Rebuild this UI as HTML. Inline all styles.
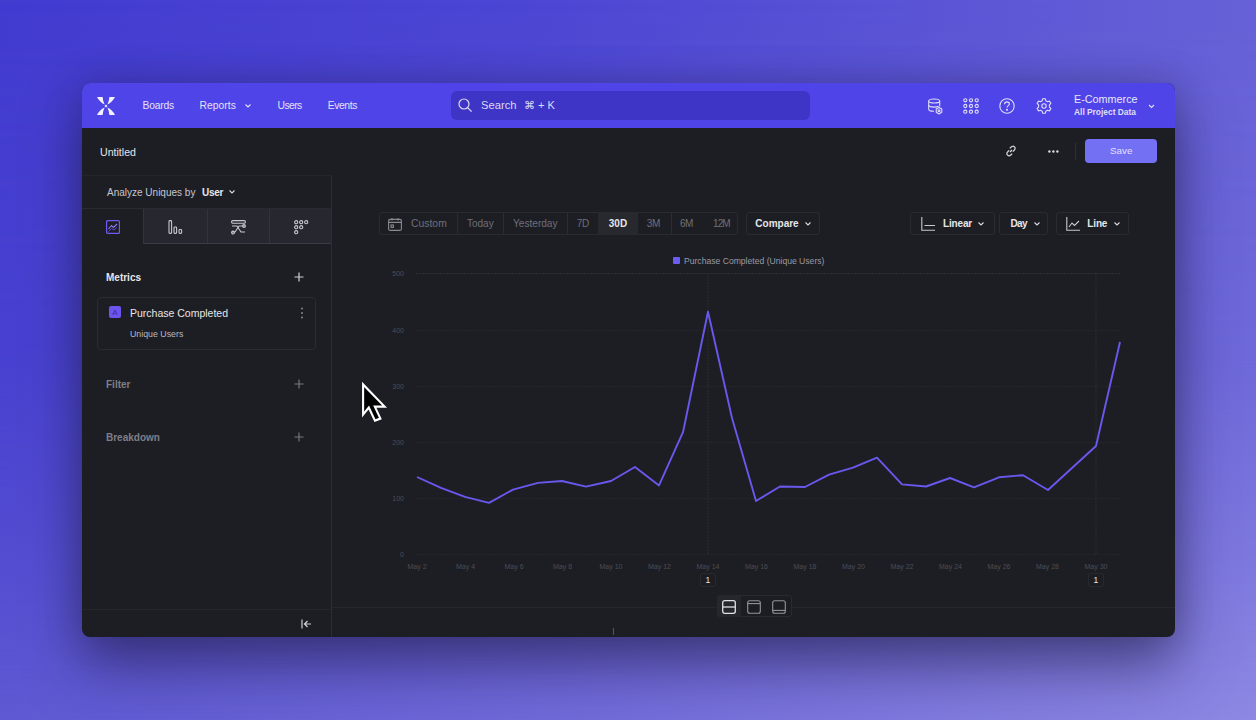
<!DOCTYPE html>
<html><head><meta charset="utf-8">
<style>
*{margin:0;padding:0;box-sizing:border-box}
html,body{width:1256px;height:720px;overflow:hidden}
body{font-family:"Liberation Sans",sans-serif;position:relative;
background:linear-gradient(to right,#423bd0 0%,#4d47d4 45%,#6761d7 100%);}
#bgb{position:absolute;left:0;top:0;width:1256px;height:720px;background:linear-gradient(to right,#5f59d2 0%,#716bd9 45%,#8d88e2 100%);-webkit-mask-image:linear-gradient(to bottom,transparent 0%,rgba(0,0,0,.2) 50%,rgba(0,0,0,.6) 78%,#000 100%);mask-image:linear-gradient(to bottom,transparent 0%,rgba(0,0,0,.2) 50%,rgba(0,0,0,.6) 78%,#000 100%)}
.abs{position:absolute}
#win{position:absolute;left:82px;top:83px;width:1093px;height:554px;border-radius:8px;overflow:hidden;background:#1d1e24;
box-shadow:0 30px 56px rgba(32,30,70,.55),0 0 36px rgba(28,24,66,.28)}
#nav{position:absolute;left:0;top:0;width:1093px;height:45px;background:#4e44e8}
.t{position:absolute;white-space:nowrap;line-height:1}
.nv{color:#e4e2f6;font-size:10px;top:18px}
#search{position:absolute;left:369px;top:8px;width:359px;height:29px;border-radius:6px;background:#3e34c6}
.w{color:#e6e6ea}
.g{color:#7e7e87}
.tg{color:#6f6f78}
.ln{position:absolute;background:#2b2c33}
</style></head>
<body>
<div id="bgb"></div>
<div id="win">
  <div id="nav">
    <svg class="abs" style="left:15px;top:14px" width="18" height="18" viewBox="0 0 17.3 17.3" fill="#f4f2ff">
      <path d="M0,0 L5.4,0 Q5.7,4 7.3,7.2 Q2.6,5 0,0 Z"/>
      <path d="M0,0 L5.4,0 Q5.7,4 7.3,7.2 Q2.6,5 0,0 Z" transform="translate(17.3,0) scale(-1,1)"/>
      <path d="M0,0 L5.4,0 Q5.7,4 7.3,7.2 Q2.6,5 0,0 Z" transform="translate(0,17.3) scale(1,-1)"/>
      <path d="M0,0 L5.4,0 Q5.7,4 7.3,7.2 Q2.6,5 0,0 Z" transform="translate(17.3,17.3) scale(-1,-1)"/>
      <rect x="7.6" y="7.6" width="2.1" height="2.1" transform="rotate(45 8.65 8.65)"/>
    </svg>
    <span class="t nv" style="left:60.5px;font-size:10.3px;letter-spacing:-0.2px">Boards</span>
    <span class="t nv" style="left:117.5px;font-size:10.3px;letter-spacing:0.05px">Reports</span>
    <svg class="abs" style="left:163px;top:21px" width="6" height="4" viewBox="0 0 6 4"><path d="M0.5,0.5 L3,3 L5.5,0.5" fill="none" stroke="#e4e2f6" stroke-width="1.1"/></svg>
    <span class="t nv" style="left:195.5px;font-size:10.3px;letter-spacing:-0.55px">Users</span>
    <span class="t nv" style="left:245.8px;font-size:10.3px;letter-spacing:-0.4px">Events</span>
    <div id="search">
      <svg class="abs" style="left:7px;top:7px" width="15" height="15" viewBox="0 0 15 15"><circle cx="6" cy="6" r="5" fill="none" stroke="#dcdaf4" stroke-width="1.2"/><path d="M9.6,9.6 L13.6,13.6" stroke="#dcdaf4" stroke-width="1.3"/></svg>
      <span class="t" style="left:30px;top:9px;font-size:11.2px;color:#dcdaf4">Search</span>
      <span class="t" style="left:73px;top:9px;font-size:11px;color:#dcdaf4">⌘ + K</span>
    </div>
    <!-- right icons -->
    <svg class="abs" style="left:845.5px;top:14.5px" width="16" height="18" viewBox="0 0 16 18" fill="none" stroke="#e0def6" stroke-width="1.1">
      <ellipse cx="6.2" cy="3" rx="5.5" ry="2"/>
      <path d="M0.7,3 V11.2 C0.7,12.4 3,13.2 6,13.2"/><path d="M11.7,3 V8.4"/>
      <path d="M0.7,7.1 C0.7,8.3 3.2,9.1 6.2,9.1 C8,9.1 9.6,8.8 10.6,8.3"/>
      <polygon points="13.77,14.30 11.00,15.90 8.23,14.30 8.23,11.10 11.00,9.50 13.77,11.10" stroke-linejoin="round"/><circle cx="11" cy="12.7" r="1"/>
    </svg>
    <svg class="abs" style="left:881px;top:15px" width="16" height="16" viewBox="0 0 16 16" fill="none" stroke="#e0def6" stroke-width="1.1">
      <circle cx="2.3" cy="2.3" r="1.6"/><circle cx="8" cy="2.3" r="1.6"/><circle cx="13.7" cy="2.3" r="1.6"/>
      <circle cx="2.3" cy="8" r="1.6"/><circle cx="8" cy="8" r="1.6"/><circle cx="13.7" cy="8" r="1.6"/>
      <circle cx="2.3" cy="13.7" r="1.6"/><circle cx="8" cy="13.7" r="1.6"/><circle cx="13.7" cy="13.7" r="1.6"/>
    </svg>
    <svg class="abs" style="left:917px;top:15px" width="16" height="16" viewBox="0 0 16 16" fill="none" stroke="#e0def6" stroke-width="1.1">
      <circle cx="8" cy="8" r="7.2"/><path d="M5.6,6.2 C5.6,4.6 6.8,3.9 8,3.9 C9.4,3.9 10.4,4.8 10.4,6 C10.4,7.6 8,7.8 8,9.6"/><circle cx="8" cy="11.8" r="0.5" fill="#e0def6"/>
    </svg>
    <svg class="abs" style="left:954px;top:15px" width="16" height="16" viewBox="0 0 16 16" fill="none" stroke="#e0def6" stroke-width="1.1">
      <path d="M6.6,0.8 H9.4 L9.8,2.8 L11.6,3.8 L13.5,3.1 L14.9,5.5 L13.4,6.9 V9.1 L14.9,10.5 L13.5,12.9 L11.6,12.2 L9.8,13.2 L9.4,15.2 H6.6 L6.2,13.2 L4.4,12.2 L2.5,12.9 L1.1,10.5 L2.6,9.1 V6.9 L1.1,5.5 L2.5,3.1 L4.4,3.8 L6.2,2.8Z" stroke-linejoin="round"/>
      <circle cx="8" cy="8" r="2.2"/>
    </svg>
    <span class="t" style="left:992px;top:11px;font-size:10.8px;color:#e8e6f8">E-Commerce</span>
    <span class="t" style="left:992px;top:25px;font-size:8.4px;font-weight:700;color:#e0def4">All Project Data</span>
    <svg class="abs" style="left:1066px;top:21px" width="7" height="5" viewBox="0 0 7 5"><path d="M1,1 L3.5,3.5 L6,1" fill="none" stroke="#e0def6" stroke-width="1.1"/></svg>
  </div>

  <!-- header row -->
  <span class="t w" style="left:18px;top:64px;font-size:10.6px">Untitled</span>
  <svg class="abs" style="left:923px;top:62px" width="12" height="12" viewBox="0 0 12 12" fill="none" stroke="#d8d8de" stroke-width="1.2">
    <path d="M5,7 L7,5"/><path d="M4.2,5.4 L2.6,7 C1.6,8 1.6,9.4 2.6,10.2 C3.4,11 4.8,11 5.8,10 L7.2,8.6"/><path d="M7.8,6.6 L9.4,5 C10.4,4 10.4,2.6 9.4,1.8 C8.6,1 7.2,1 6.2,2 L4.8,3.4"/>
  </svg>
  <svg class="abs" style="left:966px;top:67px" width="11" height="3" viewBox="0 0 11 3" fill="#d8d8de"><circle cx="1.4" cy="1.5" r="1.2"/><circle cx="5.4" cy="1.5" r="1.2"/><circle cx="9.4" cy="1.5" r="1.2"/></svg>
  <div class="ln" style="left:993px;top:60px;width:1px;height:17px;background:#2e2f35"></div>
  <div class="abs" style="left:1003px;top:56px;width:72px;height:24px;border-radius:4px;background:#7370f3"></div>
  <span class="t" style="left:1028px;top:63px;font-size:9.8px;color:#e2e0ff">Save</span>

  <!-- left panel -->
  <div class="ln" style="left:0;top:92px;width:249px;height:1px;background:#24252b"></div>
  <div class="ln" style="left:249px;top:92px;width:1px;height:462px;background:#2c2d34"></div>
  <span class="t" style="left:25px;top:104.6px;font-size:10px;color:#c6c6ce">Analyze Uniques by</span>
  <span class="t w" style="left:120px;top:104.6px;font-size:10px;font-weight:700;letter-spacing:-0.3px">User</span>
  <svg class="abs" style="left:147px;top:107px" width="6" height="4" viewBox="0 0 6 4"><path d="M0.5,0.5 L3,3 L5.5,0.5" fill="none" stroke="#d8d8de" stroke-width="1.1"/></svg>

  <!-- tabs -->
  <div class="abs" style="left:0;top:125px;width:249px;height:1px;background:#2a2b31"></div>
  <div class="abs" style="left:61px;top:126px;width:188px;height:34px;background:#27282f"></div>
  <div class="abs" style="left:61px;top:160px;width:188px;height:1px;background:#3a3b44"></div>
  <div class="abs" style="left:61px;top:126px;width:1px;height:34px;background:#33343b"></div>
  <div class="abs" style="left:125px;top:126px;width:1px;height:34px;background:#33343b"></div>
  <div class="abs" style="left:187px;top:126px;width:1px;height:34px;background:#33343b"></div>
  <svg class="abs" style="left:24px;top:137px" width="14" height="14" viewBox="0 0 14 14" fill="none">
    <rect x="0.6" y="0.6" width="12.8" height="12.8" rx="1" stroke="#6c5cf2" stroke-width="1.2"/>
    <path d="M2.5,9 L5.5,5.5 L7.5,7.5 L11,4" stroke="#8a7cf4" stroke-width="1.1"/><path d="M2.5,11.5 L5.5,8.5 L8,10 L11,7.5" stroke="#5a4cc8" stroke-width="1"/>
  </svg>
  <svg class="abs" style="left:86px;top:137px" width="15" height="14" viewBox="0 0 15 14" fill="none" stroke="#c8c8ce" stroke-width="1.1">
    <rect x="1" y="0.6" width="2.6" height="12.8" rx="0.8"/><rect x="6" y="7" width="2.6" height="6.4" rx="0.8"/><rect x="11" y="9.5" width="2.6" height="3.9" rx="0.8"/>
  </svg>
  <svg class="abs" style="left:149px;top:137px" width="15" height="15" viewBox="0 0 15 15" fill="none" stroke="#c8c8ce" stroke-width="1.1">
    <rect x="0.6" y="0.6" width="13.8" height="2.6" rx="1.2"/><path d="M1,6 L6,6 L10,12 L14,12"/><path d="M1,12 L4,12 L8,6 L14,6"/><circle cx="2" cy="12.5" r="1.4"/><circle cx="13" cy="6" r="1.4"/>
  </svg>
  <svg class="abs" style="left:212px;top:137px" width="15" height="15" viewBox="0 0 15 15" fill="none" stroke="#c8c8ce" stroke-width="1.1">
    <circle cx="2.2" cy="2.2" r="1.6"/><circle cx="7.2" cy="2.2" r="1.6"/><circle cx="12.2" cy="2.2" r="1.6"/>
    <circle cx="2.2" cy="7.2" r="1.6"/><circle cx="7.2" cy="7.2" r="1.6"/><circle cx="2.2" cy="12.2" r="1.6"/>
  </svg>

  <!-- metrics -->
  <span class="t w" style="left:24px;top:190px;font-size:10px;font-weight:700">Metrics</span>
  <svg class="abs" style="left:212px;top:189px" width="10" height="10" viewBox="0 0 10 10"><path d="M5,0.5 V9.5 M0.5,5 H9.5" stroke="#d0d0d6" stroke-width="1.2"/></svg>
  <div class="abs" style="left:15px;top:214px;width:219px;height:53px;border:1px solid #2b2c32;border-radius:4px"></div>
  <div class="abs" style="left:27px;top:223px;width:12px;height:12px;border-radius:2px;background:#6a55ee"></div>
  <span class="t" style="left:30.3px;top:225.5px;font-size:8px;color:#3a2c98">A</span>
  <span class="t w" style="left:48px;top:225px;font-size:10.5px">Purchase Completed</span>
  <span class="t" style="left:48px;top:247px;font-size:8.8px;color:#b8b8c0">Unique Users</span>
  <svg class="abs" style="left:218px;top:224px" width="4" height="12" viewBox="0 0 4 12" fill="#85858d"><circle cx="2" cy="1.5" r="1"/><circle cx="2" cy="6" r="1"/><circle cx="2" cy="10.5" r="1"/></svg>

  <span class="t g" style="left:24px;top:297px;font-size:10px;font-weight:700">Filter</span>
  <svg class="abs" style="left:212px;top:296px" width="10" height="10" viewBox="0 0 10 10"><path d="M5,0.5 V9.5 M0.5,5 H9.5" stroke="#7a7a82" stroke-width="1.1"/></svg>
  <span class="t g" style="left:24px;top:350px;font-size:10px;font-weight:700">Breakdown</span>
  <svg class="abs" style="left:212px;top:349px" width="10" height="10" viewBox="0 0 10 10"><path d="M5,0.5 V9.5 M0.5,5 H9.5" stroke="#7a7a82" stroke-width="1.1"/></svg>

  <div class="abs" style="left:0;top:526px;width:249px;height:1px;background:#26272d"></div>
  <svg class="abs" style="left:219px;top:536px" width="11" height="10" viewBox="0 0 11 10" fill="none" stroke="#d0d0d6" stroke-width="1.2"><path d="M1,0.5 V9.5"/><path d="M10,5 H3.5 M6.5,2 L3.5,5 L6.5,8"/></svg>

  <!-- chart toolbar -->
  <div class="abs" style="left:297px;top:129px;width:359px;height:23px;border:1px solid #2a2b31;border-radius:3px"></div>
  <div class="abs" style="left:516px;top:129px;width:40px;height:23px;background:#28292e"></div>
  <svg class="abs" style="left:306px;top:135px" width="14" height="13" viewBox="0 0 14 13" fill="none" stroke="#8a8a92" stroke-width="1.1"><rect x="0.6" y="1.4" width="12.8" height="11" rx="1.5"/><path d="M0.6,4.4 H13.4 M4,0 V2.6 M10,0 V2.6"/><rect x="3" y="7" width="2.4" height="2.4"/></svg>
  <span class="t tg" style="left:329px;top:136px;font-size:10.4px">Custom</span>
  <div class="ln" style="left:375px;top:130px;width:1px;height:21px"></div>
  <span class="t tg" style="left:385px;top:136px;font-size:10px">Today</span>
  <div class="ln" style="left:421px;top:130px;width:1px;height:21px"></div>
  <span class="t tg" style="left:431px;top:136px;font-size:10.1px">Yesterday</span>
  <div class="ln" style="left:485px;top:130px;width:1px;height:21px"></div>
  <span class="t tg" style="left:494.8px;top:136px;font-size:10px;letter-spacing:-0.4px">7D</span>
  <span class="t w" style="left:526.8px;top:136px;font-size:10px;font-weight:700">30D</span>
  <span class="t tg" style="left:564.8px;top:136px;font-size:10px;letter-spacing:-0.45px">3M</span>
  <div class="ln" style="left:589px;top:130px;width:1px;height:21px"></div>
  <span class="t tg" style="left:598px;top:136px;font-size:10px;letter-spacing:-0.45px">6M</span>
  <span class="t tg" style="left:631px;top:136px;font-size:10px;letter-spacing:-0.9px">12M</span>
  <div class="abs" style="left:664px;top:129px;width:74px;height:23px;border:1px solid #2a2b31;border-radius:3px"></div>
  <span class="t w" style="left:673.3px;top:136px;font-size:10px;font-weight:700">Compare</span>
  <svg class="abs" style="left:723px;top:139px" width="6" height="4" viewBox="0 0 6 4"><path d="M0.5,0.5 L3,3 L5.5,0.5" fill="none" stroke="#d8d8de" stroke-width="1.1"/></svg>

  <div class="abs" style="left:828px;top:129px;width:85px;height:23px;border:1px solid #2a2b31;border-radius:3px"></div>
  <svg class="abs" style="left:839px;top:134px" width="14" height="14" viewBox="0 0 14 14" fill="none" stroke="#c8c8ce" stroke-width="1.1"><path d="M0.8,0 V13.2 H14"/><path d="M3.5,8.5 H14"/></svg>
  <span class="t w" style="left:861px;top:136px;font-size:10px;font-weight:700;letter-spacing:-0.15px">Linear</span>
  <svg class="abs" style="left:896px;top:139px" width="6" height="4" viewBox="0 0 6 4"><path d="M0.5,0.5 L3,3 L5.5,0.5" fill="none" stroke="#d8d8de" stroke-width="1.1"/></svg>
  <div class="abs" style="left:917px;top:129px;width:49px;height:23px;border:1px solid #2a2b31;border-radius:3px"></div>
  <span class="t w" style="left:928.5px;top:136px;font-size:10px;font-weight:700;letter-spacing:-0.6px">Day</span>
  <svg class="abs" style="left:952px;top:139px" width="6" height="4" viewBox="0 0 6 4"><path d="M0.5,0.5 L3,3 L5.5,0.5" fill="none" stroke="#d8d8de" stroke-width="1.1"/></svg>
  <div class="abs" style="left:974px;top:129px;width:73px;height:23px;border:1px solid #2a2b31;border-radius:3px"></div>
  <svg class="abs" style="left:984px;top:134px" width="14" height="14" viewBox="0 0 14 14" fill="none" stroke="#c8c8ce" stroke-width="1.1"><path d="M0.8,0 V13.2 H14"/><path d="M3,10 L6,6 L8.5,8.5 L13,4"/></svg>
  <span class="t w" style="left:1005.3px;top:136px;font-size:10px;font-weight:700;letter-spacing:-0.15px">Line</span>
  <svg class="abs" style="left:1032px;top:139px" width="6" height="4" viewBox="0 0 6 4"><path d="M0.5,0.5 L3,3 L5.5,0.5" fill="none" stroke="#d8d8de" stroke-width="1.1"/></svg>

  <!-- legend -->
  <div class="abs" style="left:591px;top:174px;width:7px;height:7px;background:#6c5cf0;border-radius:1px"></div>
  <span class="t" style="left:602px;top:173.5px;font-size:8.6px;color:#9a9aa2">Purchase Completed (Unique Users)</span>

  <svg class="abs" style="left:0;top:0" width="1093" height="554" font-family="Liberation Sans" font-size="7" fill="#4c4d55">
<line x1="334" y1="190.5" x2="1038" y2="190.5" stroke="#2d2f33" stroke-width="1" stroke-dasharray="2 1"/>
<text x="322" y="193.0" text-anchor="end">500</text>
<line x1="334" y1="247.5" x2="1038" y2="247.5" stroke="#25262c" stroke-width="1" stroke-dasharray="2 1"/>
<text x="322" y="250.0" text-anchor="end">400</text>
<line x1="334" y1="303.5" x2="1038" y2="303.5" stroke="#25262c" stroke-width="1" stroke-dasharray="2 1"/>
<text x="322" y="306.0" text-anchor="end">300</text>
<line x1="334" y1="359.5" x2="1038" y2="359.5" stroke="#25262c" stroke-width="1" stroke-dasharray="2 1"/>
<text x="322" y="362.0" text-anchor="end">200</text>
<line x1="334" y1="415.5" x2="1038" y2="415.5" stroke="#25262c" stroke-width="1" stroke-dasharray="2 1"/>
<text x="322" y="418.0" text-anchor="end">100</text>
<line x1="334" y1="471.5" x2="1038" y2="471.5" stroke="#25262c" stroke-width="1" stroke-dasharray="2 1"/>
<text x="322" y="474.0" text-anchor="end">0</text>
<line x1="626" y1="190" x2="626" y2="471.5" stroke="#2a2f2c" stroke-width="1" stroke-dasharray="2 1"/>
<line x1="1014" y1="190" x2="1014" y2="471.5" stroke="#2a2f2c" stroke-width="1" stroke-dasharray="2 1"/>
<text x="335.0" y="485.5" text-anchor="middle">May 2</text>
<text x="383.5" y="485.5" text-anchor="middle">May 4</text>
<text x="432.0" y="485.5" text-anchor="middle">May 6</text>
<text x="480.5" y="485.5" text-anchor="middle">May 8</text>
<text x="529.0" y="485.5" text-anchor="middle">May 10</text>
<text x="577.5" y="485.5" text-anchor="middle">May 12</text>
<text x="626.0" y="485.5" text-anchor="middle">May 14</text>
<text x="674.5" y="485.5" text-anchor="middle">May 16</text>
<text x="723.0" y="485.5" text-anchor="middle">May 18</text>
<text x="771.5" y="485.5" text-anchor="middle">May 20</text>
<text x="820.0" y="485.5" text-anchor="middle">May 22</text>
<text x="868.5" y="485.5" text-anchor="middle">May 24</text>
<text x="917.0" y="485.5" text-anchor="middle">May 26</text>
<text x="965.5" y="485.5" text-anchor="middle">May 28</text>
<text x="1014.0" y="485.5" text-anchor="middle">May 30</text>

  <polyline points="335.0,394.0 359.0,404.9 383.0,413.8 407.0,419.9 431.0,406.6 456.0,399.9 480.0,398.0 504.0,403.6 529.0,398.0 553.0,384.0 577.0,402.4 601.0,349.2 626.0,228.7 650.0,335.0 674.0,418.0 698.0,403.5 723.0,404.0 747.0,391.7 771.0,384.6 795.0,374.6 820.0,401.4 844.0,403.5 868.0,395.0 892.0,404.3 917.0,394.3 941.0,392.2 966.0,407.0 990.0,385.0 1014.0,363.0 1038.0,259.0" fill="none" stroke="#6858ee" stroke-width="1.9" stroke-linejoin="round"/>
  </svg>
  <div class="abs" style="left:618px;top:490px;width:16px;height:14px;border:1px solid #28292f;border-radius:2px"></div>
  <span class="t w" style="left:623.5px;top:493px;font-size:8.5px">1</span>
  <div class="abs" style="left:1006px;top:490px;width:16px;height:14px;border:1px solid #28292f;border-radius:2px"></div>
  <span class="t w" style="left:1011.5px;top:493px;font-size:8.5px">1</span>

  <div class="abs" style="left:250px;top:524px;width:843px;height:1px;background:#26272d"></div>
  <div class="abs" style="left:635px;top:512px;width:75px;height:22px;border:1px solid #2a2b31;border-radius:3px;background:#1c1d22"></div>
  <div class="abs" style="left:635px;top:512px;width:24px;height:22px;background:#26272c;border-radius:3px 0 0 3px"></div>
  <svg class="abs" style="left:640px;top:517px" width="14" height="14" viewBox="0 0 14 14" fill="none" stroke="#e0e0e6" stroke-width="1.3"><rect x="0.7" y="0.7" width="12.6" height="12.6" rx="2"/><path d="M0.7,7 H13.3"/></svg>
  <svg class="abs" style="left:665px;top:517px" width="14" height="14" viewBox="0 0 14 14" fill="none" stroke="#94949c" stroke-width="1.1"><rect x="0.7" y="0.7" width="12.6" height="12.6" rx="2"/><path d="M0.7,3.6 H13.3"/></svg>
  <svg class="abs" style="left:690px;top:517px" width="14" height="14" viewBox="0 0 14 14" fill="none" stroke="#94949c" stroke-width="1.1"><rect x="0.7" y="0.7" width="12.6" height="12.6" rx="2"/><path d="M0.7,10.4 H13.3"/></svg>
  <div class="abs" style="left:531px;top:545px;width:1px;height:7px;background:#55565e"></div>
</div>
<!-- cursor -->
<svg class="abs" style="left:360px;top:380px" width="30" height="45" viewBox="0 0 30 45">
  <path d="M3.1,4.4 L3.1,34.5 L8.8,27.5 L15,40.6 L20.4,38.6 L14.8,26.6 L24.6,26.6 Z" fill="#000" stroke="#fff" stroke-width="2.1" stroke-linejoin="miter" stroke-miterlimit="3"/>
</svg>
</body></html>
